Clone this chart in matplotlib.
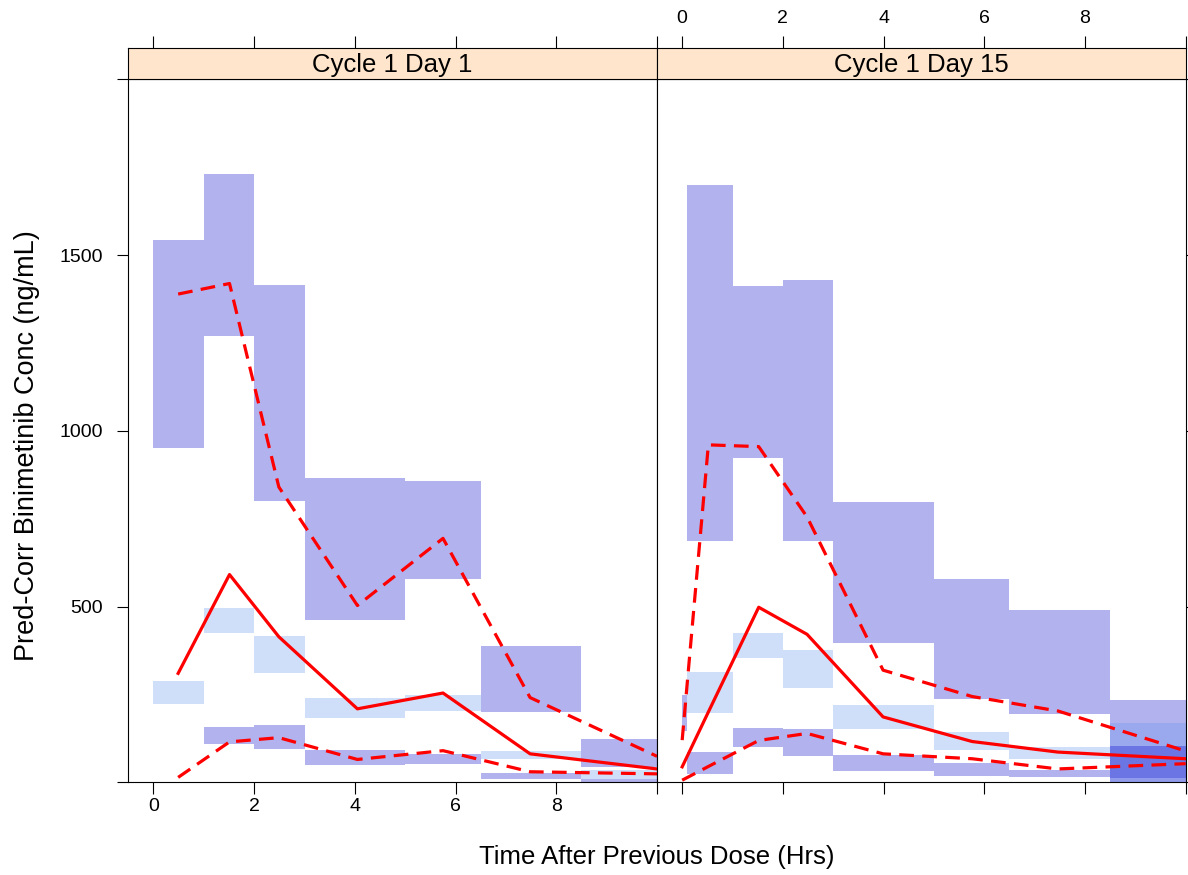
import matplotlib
matplotlib.use("Agg")
import matplotlib.pyplot as plt
import numpy as np

plt.rcParams['font.family'] = ['Liberation Sans', 'DejaVu Sans']

# ---- data ----
panel_titles = ["Cycle 1 Day 1", "Cycle 1 Day 15"]

# Cycle 1 Day 1: bins and simulated CI boxes
bins_d1 = [0, 1, 2, 3, 5, 6.5, 8.5, 10]
up_lo_d1 = [951, 1271, 801, 462, 579, 200, 44]
up_hi_d1 = [1544, 1731, 1414, 865, 858, 387, 122]
med_lo_d1 = [223, 426, 312, 182, 203, 67, 9]
med_hi_d1 = [289, 495, 417, 241, 248, 90, 35]
low_lo_d1 = [0, 108, 94, 49, 52, 9, 1]
low_hi_d1 = [0, 158, 162, 92, 81, 26, 9]

# Cycle 1 Day 1: observed percentiles
time_d1 = [0.49, 1.51, 2.49, 4.05, 5.75, 7.48, 10.0]
obs_med_d1 = [310, 591, 414, 209, 254, 81, 38]
obs_p05_d1 = [14, 115, 127, 65, 90, 30, 24]
obs_p95_d1 = [1389, 1419, 840, 503, 694, 241, 74]

# Cycle 1 Day 15: bins and simulated CI boxes
bins_d15 = [0, 0.1, 1, 2, 3, 5, 6.5, 8.5, 10]
up_lo_d15 = [147, 687, 922, 687, 396, 236, 193, 11]
up_hi_d15 = [249, 1698, 1412, 1429, 798, 577, 490, 234]
med_lo_d15 = [0, 196, 355, 269, 152, 93, 67, 2]
med_hi_d15 = [0, 315, 426, 377, 219, 144, 100, 168]
low_lo_d15 = [0, 24, 101, 74, 32, 19, 15, 2]
low_hi_d15 = [0, 87, 155, 152, 79, 55, 34, 103]

# Cycle 1 Day 15: observed percentiles
time_d15 = [0, 0.52, 1.52, 2.48, 3.99, 5.76, 7.46, 10.0]
obs_med_d15 = [44, 200, 498, 421, 186, 116, 86, 67]
obs_p05_d15 = [6, 45, 119, 139, 81, 67, 38, 53]
obs_p95_d15 = [120, 960, 955, 755, 319, 244, 203, 89]

x_ticks = [0, 2, 4, 6, 8, 10]
x_labels = ['0', '2', '4', '6', '8', '']
y_ticks = [0, 500, 1000, 1500, 2000]
y_labels = ['', '500', '1000', '1500', '']

panels = [
    dict(bins=bins_d1, up=(up_lo_d1, up_hi_d1), med=(med_lo_d1, med_hi_d1),
         low=(low_lo_d1, low_hi_d1), t=time_d1, om=obs_med_d1,
         o5=obs_p05_d1, o95=obs_p95_d1),
    dict(bins=bins_d15, up=(up_lo_d15, up_hi_d15), med=(med_lo_d15, med_hi_d15),
         low=(low_lo_d15, low_hi_d15), t=time_d15, om=obs_med_d15,
         o5=obs_p05_d15, o95=obs_p95_d15),
]

W, H = 1188, 875
fig = plt.figure(figsize=(W / 100, H / 100), dpi=100)


def fx(px):
    return px / W


def fy(py):
    return 1 - py / H


panel_top, panel_bot, strip_top = 79.3, 782.3, 48.3
lefts = [128.3, 657.0]
pw = 528.7


def draw_boxes(ax, edges, lo, hi, color):
    edges = np.asarray(edges, float)
    lo = np.asarray(lo, float)
    hi = np.asarray(hi, float)
    ax.bar(edges[:-1], hi - lo, bottom=lo, width=np.diff(edges), align='edge',
           color=color, alpha=0.3, linewidth=0)


for i, p in enumerate(panels):
    ax = fig.add_axes([fx(lefts[i]), fy(panel_bot), pw / W, (panel_bot - panel_top) / H])
    draw_boxes(ax, p['bins'], *p['up'], 'mediumblue')
    draw_boxes(ax, p['bins'], *p['med'], 'cornflowerblue')
    draw_boxes(ax, p['bins'], *p['low'], 'mediumblue')

    ax.plot(p['t'], p['om'], color='red', lw=2.3)
    ax.plot(p['t'], p['o5'], color='red', lw=2.3, dashes=(4.6, 2.6))
    ax.plot(p['t'], p['o95'], color='red', lw=2.3, dashes=(4.6, 2.6))

    ax.set_xlim(-0.5, 10)
    ax.set_ylim(0, 2000)
    ax.set_xticks(x_ticks)
    ax.set_yticks(y_ticks)
    if i == 0:
        ax.set_xticklabels(x_labels)
        ax.set_yticklabels(y_labels)
        ax.tick_params(axis='y', left=True, right=False, labelleft=True)
    else:
        ax.set_xticklabels([''] * len(x_ticks))
        ax.tick_params(axis='y', left=False, right=True, labelleft=False)
    ax.tick_params(axis='x', bottom=True, top=False, length=8.6, width=0.8, pad=3, labelsize=14)
    ax.tick_params(axis='y', direction='out', length=8, width=0.8, pad=10, labelsize=14)
    for s in ax.spines.values():
        s.set_linewidth(0.8)

    # strip on top of the panel
    st = fig.add_axes([fx(lefts[i]), fy(panel_top), pw / W, (panel_top - strip_top) / H])
    st.set_facecolor('#FFE5CC')
    st.set_xlim(-0.5, 10)
    st.set_yticks([])
    st.set_xticks(x_ticks)
    st.set_xticklabels(x_labels if i == 1 else [''] * len(x_ticks))
    st.tick_params(axis='x', bottom=False, top=True, labelbottom=False, labeltop=(i == 1),
                   length=9, width=0.8, pad=6, labelsize=14)
    for s in st.spines.values():
        s.set_linewidth(0.8)
    st.text(0.5, 0.45, panel_titles[i], transform=st.transAxes, ha='center', va='center',
            fontsize=18.5)

fig.text(fx(657), fy(857), 'Time After Previous Dose (Hrs)', ha='center', va='center',
         fontsize=18.5)
fig.text(fx(27), fy(446), 'Pred-Corr Binimetinib Conc (ng/mL)', rotation=90,
         ha='center', va='center', fontsize=19.5)

fig.savefig('out.png', dpi=100)
